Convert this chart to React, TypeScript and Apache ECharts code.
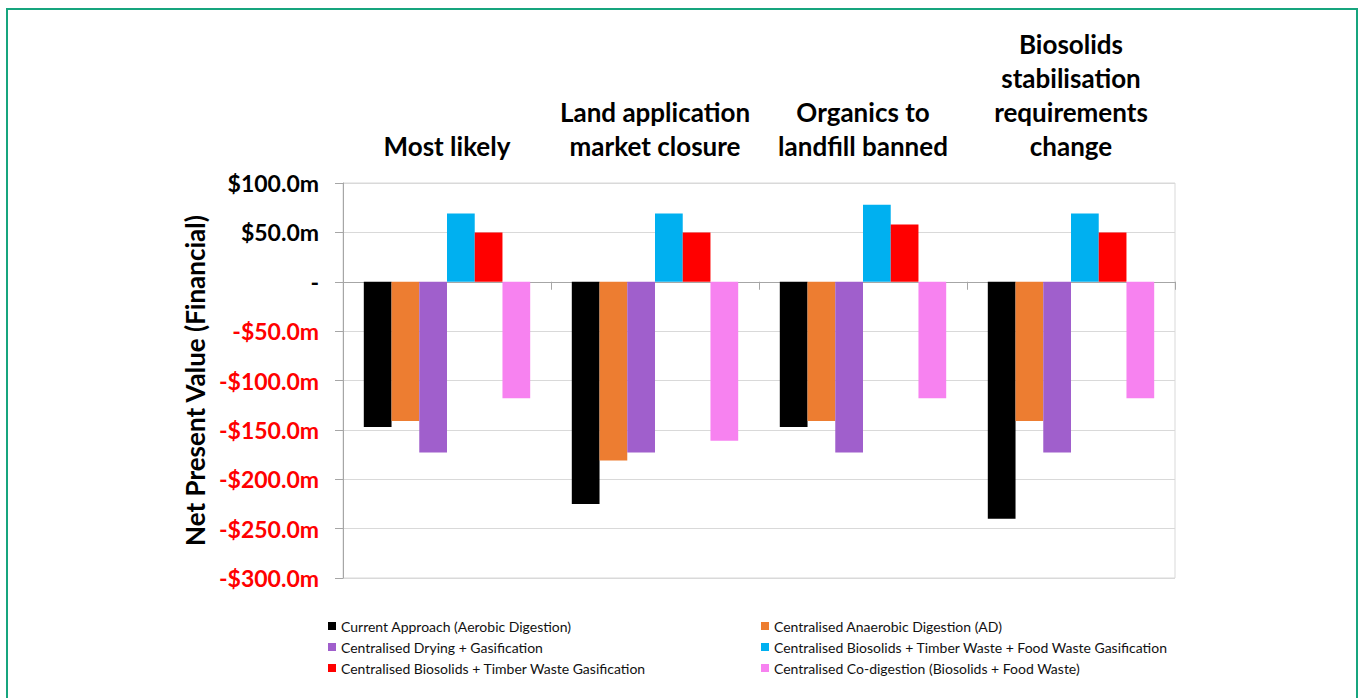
import React, { useEffect, useRef } from "react";
import * as echarts from "echarts";

const categories = [
  "Most likely",
  "Land application\nmarket closure",
  "Organics to\nlandfill banned",
  "Biosolids\nstabilisation\nrequirements\nchange",
];

const seriesNames = [
  "Current Approach (Aerobic Digestion)",
  "Centralised Anaerobic Digestion (AD)",
  "Centralised Drying + Gasification",
  "Centralised Biosolids + Timber Waste + Food Waste Gasification",
  "Centralised Biosolids + Timber Waste Gasification",
  "Centralised Co-digestion (Biosolids + Food Waste)",
];

const seriesColors = ["#000000", "#ED7D31", "#A05FCC", "#00B0F0", "#FF0000", "#F782F0"];

const currentApproach = [-147, -225, -147, -240];
const centralisedAD = [-141, -181, -141, -141];
const dryingGasification = [-173, -173, -173, -173];
const biosolidsTimberFood = [69, 69, 78, 69];
const biosolidsTimber = [50, 50, 58, 50];
const coDigestion = [-118, -161, -118, -118];

const seriesValues = [
  currentApproach,
  centralisedAD,
  dryingGasification,
  biosolidsTimberFood,
  biosolidsTimber,
  coDigestion,
];

const yMin = -300;
const yMax = 100;
const yInterval = 50;

const fmt = (v: number) => {
  if (v === 0) return "-";
  if (v > 0) return "$" + v.toFixed(1) + "m";
  return "-$" + Math.abs(v).toFixed(1) + "m";
};

export default function App() {
  const ref = useRef<HTMLDivElement>(null);
  useEffect(() => {
    if (!ref.current) return;
    const chart = echarts.init(ref.current, undefined, { renderer: "svg" });
    const font = "Lato, 'Open Sans', sans-serif";
    const legendText = { fontFamily: font, fontSize: 14, color: "#111111", lineHeight: 16 };
    chart.setOption({
      animation: false,
      backgroundColor: "#ffffff",
      textStyle: { fontFamily: font },
      grid: {
        left: 343,
        top: 183,
        width: 832,
        height: 395,
        show: true,
        borderColor: "#d9d9d9",
        borderWidth: 1,
      },
      legend: [
        {
          orient: "vertical",
          left: 328,
          top: 618,
          padding: 0,
          itemGap: 5,
          itemWidth: 8,
          itemHeight: 8,
          icon: "rect",
          data: [seriesNames[0], seriesNames[2], seriesNames[4]],
          textStyle: legendText,
        },
        {
          orient: "vertical",
          left: 761,
          top: 618,
          padding: 0,
          itemGap: 5,
          itemWidth: 8,
          itemHeight: 8,
          icon: "rect",
          data: [seriesNames[1], seriesNames[3], seriesNames[5]],
          textStyle: legendText,
        },
      ],
      xAxis: [
        {
          type: "category",
          data: categories,
          position: "bottom",
          axisLine: { show: true, onZero: true, lineStyle: { color: "#a6a6a6", width: 1 } },
          axisTick: { show: true, length: 8, lineStyle: { color: "#a6a6a6" } },
          axisLabel: { show: false },
          splitLine: { show: false },
        },
        {
          type: "category",
          data: categories,
          position: "top",
          axisLine: { show: false, onZero: false },
          axisTick: { show: false },
          axisLabel: {
            show: true,
            interval: 0,
            hideOverlap: false,
            margin: 20,
            fontFamily: font,
            fontSize: 26,
            fontWeight: "bold",
            color: "#000000",
            lineHeight: 34,
            align: "center",
          },
          splitLine: { show: false },
        },
      ],
      yAxis: {
        type: "value",
        min: yMin,
        max: yMax,
        interval: yInterval,
        name: "Net Present Value (Financial)",
        nameLocation: "middle",
        nameGap: 127,
        nameTextStyle: { fontFamily: font, fontSize: 26, fontWeight: "bold", color: "#000000" },
        axisLine: { show: true, lineStyle: { color: "#a6a6a6" } },
        axisTick: { show: true, length: 8, lineStyle: { color: "#a6a6a6" } },
        axisLabel: {
          margin: 24,
          fontFamily: font,
          fontSize: 23,
          fontWeight: "bold",
          formatter: (v: number) => fmt(v),
          color: (v: any) => (Number(v) < 0 ? "#FF0000" : "#000000"),
        },
        splitLine: { show: true, lineStyle: { color: "#d9d9d9" } },
      },
      series: seriesNames.map((name, i) => ({
        name,
        type: "bar",
        xAxisIndex: 0,
        data: seriesValues[i],
        barGap: "0%",
        barCategoryGap: "20%",
        itemStyle: { color: seriesColors[i] },
      })),
      graphic: [
        {
          type: "rect",
          silent: true,
          z: 100,
          shape: { x: 7, y: 9, width: 1350, height: 720 },
          style: { fill: "none", stroke: "#17A57E", lineWidth: 2 },
        },
      ],
    });
    return () => chart.dispose();
  }, []);
  return (
    <div
      ref={ref}
      style={{ position: "fixed", left: 0, top: 0, width: 1362, height: 698 }}
    />
  );
}
